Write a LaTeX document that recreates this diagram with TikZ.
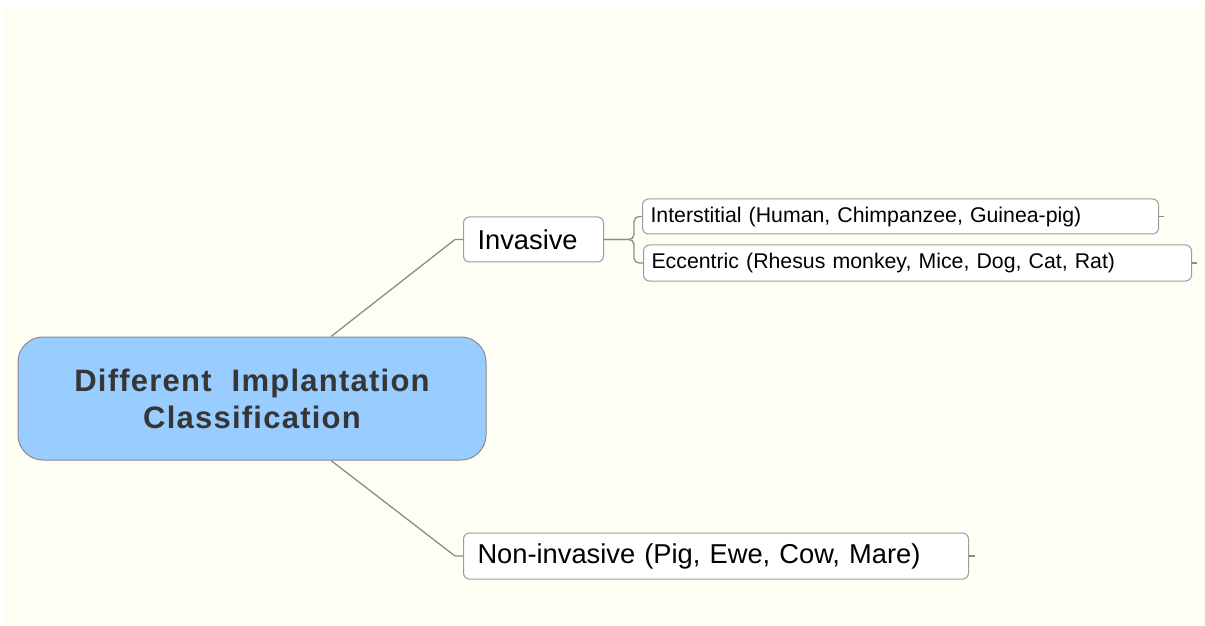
\documentclass[tikz,border=0pt]{standalone}
\usepackage{fontspec}
\setmainfont{Liberation Sans}
\usetikzlibrary{calc}
\definecolor{bgcream}{HTML}{FEFEF5}
\definecolor{rootblue}{HTML}{99CCFF}
\definecolor{rootborder}{HTML}{8A8A8A}
\definecolor{boxborder}{HTML}{9C9C9C}
\definecolor{linkgray}{HTML}{8C8C8C}
\definecolor{titlegray}{HTML}{363636}
\tikzset{
  rootbox/.style={draw=rootborder, line width=1pt, fill=rootblue, rounded corners=25pt,
    minimum width=468pt, minimum height=123pt, align=center, text=titlegray,
    font=\fontsize{31}{37}\selectfont\bfseries\addfontfeature{LetterSpace=4}},
  topicbox/.style={draw=boxborder, line width=1pt, fill=white, rounded corners=6pt,
    anchor=west, align=left, inner ysep=0pt, text=black},
  bigtext/.style={font=\fontsize{27.3}{33}\selectfont, inner xsep=14pt, minimum height=45pt},
  smalltext/.style={font=\fontsize{21.3}{26}\selectfont, inner xsep=8pt},
  link/.style={draw=linkgray, line width=1.3pt},
}
\begin{document}
\begin{tikzpicture}[x=1pt,y=1pt]
\useasboundingbox (0,0) rectangle (1205,625);
\fill[bgcream] (3,0) rectangle (1205,617);
\node[rootbox] (root) at (252,226.5) {Different\hspace{20pt}Implantation\\Classification};
\node[topicbox,bigtext,text width=112pt] (inv) at (463,385.5) {Invasive};
\node[topicbox,smalltext,text width=500pt,minimum height=35pt] (int) at (642,408.5) {Interstitial (Human, Chimpanzee, Guinea-pig)};
\node[topicbox,smalltext,text width=532pt,minimum height=36pt] (ecc) at (643,362) {Eccentric (Rhesus monkey, Mice, Dog, Cat, Rat)};
\node[topicbox,bigtext,text width=477pt,minimum height=46pt] (non) at (463,69) {Non-invasive (Pig, Ewe, Cow, Mare)};
\draw[link] ([xshift=79pt]root.north) -- ([xshift=-8pt]inv.west) -- (inv.west);
\draw[link] ([xshift=79pt]root.south) -- ([xshift=-8pt]non.west) -- (non.west);
\draw[link,rounded corners=5pt] (inv.east) -- ([xshift=30pt]inv.east) |- (int.west);
\draw[link,rounded corners=5pt] (inv.east) -- ([xshift=30pt]inv.east) |- (ecc.west);
\draw[link] (int.east) -- ++(5,0);
\draw[link] (ecc.east) -- ++(5,0);
\draw[link] (non.east) -- ++(6,0);
\end{tikzpicture}
\end{document}
